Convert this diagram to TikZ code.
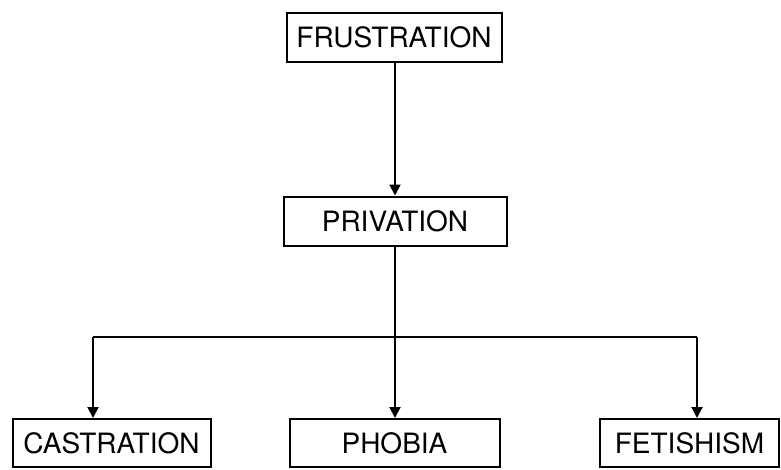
\documentclass[tikz,border=0pt]{standalone}
\usepackage{fontspec}
\setmainfont{TeX Gyre Heros}
\usetikzlibrary{arrows.meta}
\begin{document}
\begin{tikzpicture}[x=1pt,y=1pt,
  box/.style={draw,line width=2pt,inner sep=0pt,font=\fontsize{28}{30}\selectfont},
  conn/.style={line width=2pt},
  arr/.style={conn,-{Triangle[length=11pt,width=11pt]}}]
\useasboundingbox (0,0) rectangle (781,-469);
\node[box,minimum width=215pt,minimum height=49pt] (fr) at (394,-37) {FRUSTRATION};
\node[box,minimum width=223pt,minimum height=49pt] (pr) at (395,-221) {PRIVATION};
\node[box,minimum width=198pt,minimum height=48pt] (ca) at (111.5,-443) {CASTRATION};
\node[box,minimum width=210pt,minimum height=48pt] (ph) at (394.5,-443) {PHOBIA};
\node[box,minimum width=179pt,minimum height=48pt] (fe) at (689.5,-443) {FETISHISM};
\coordinate (j) at (395,-337);
\coordinate (jl) at (93,-337);
\coordinate (jr) at (697,-337);
\draw[arr] (fr.south -| j) -- (pr.north -| j);
\draw[conn] (pr.south -| j) -- (j);
\draw[conn] (jl) -- (jr);
\draw[arr] (jl) -- (ca.north -| jl);
\draw[arr] (j) -- (ph.north -| j);
\draw[arr] (jr) -- (fe.north -| jr);
\end{tikzpicture}
\end{document}
